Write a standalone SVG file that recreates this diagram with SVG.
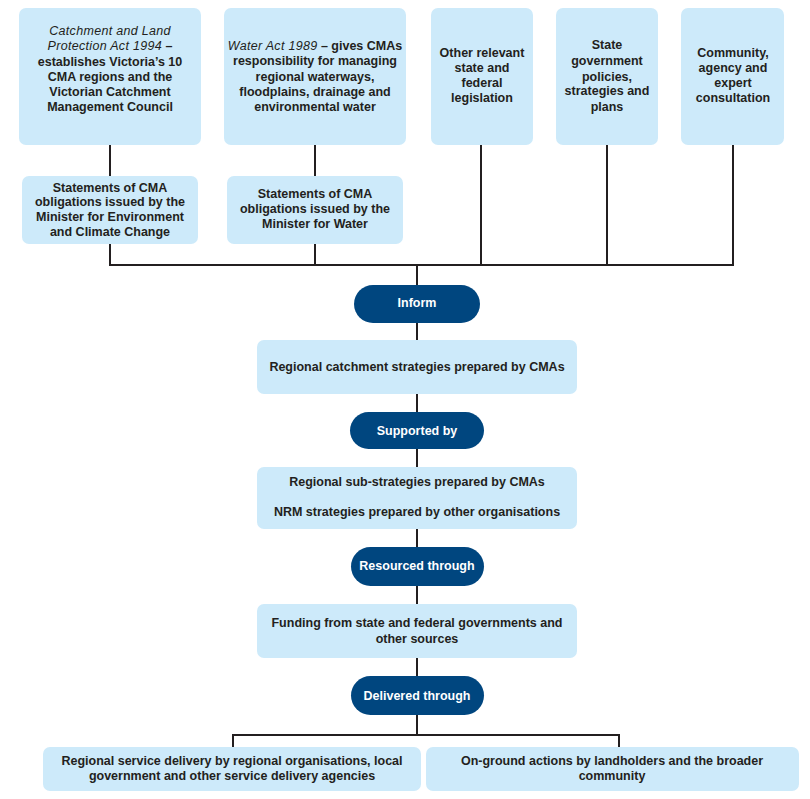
<svg xmlns="http://www.w3.org/2000/svg" width="810" height="799" viewBox="0 0 810 799">
<style>
.box{fill:#cdeafa;}
.pill{fill:#00467f;}
text{font-family:"Liberation Sans",Arial,sans-serif;font-size:12.5px;font-weight:bold;fill:#231f20;text-anchor:middle;}
.w{fill:#ffffff;}
.it{font-style:italic;font-weight:normal;letter-spacing:0.3px;}
.ln{stroke:#231f20;stroke-width:2;fill:none;}
</style>
<rect width="810" height="799" fill="#ffffff"/>
<g id="connectors">
<path class="ln" d="M110 145V176M110 244V265H733V145M315 145V176M315 244V265M481 145V265M607 145V265"/>
<path class="ln" d="M417 265V285M417 323V340M417 394V412M417 449V467M417 529V547M417 586V604M417 658V676M417 715V735M233 747V735H619V747"/>
</g>
<g id="n1"><rect class="box" x="19" y="8" width="182" height="137" rx="7"/>
<text x="110" y="35" class="it">Catchment and Land</text>
<text x="110" y="50"><tspan class="it">Protection Act 1994</tspan> –</text>
<text x="110" y="66">establishes Victoria’s 10</text>
<text x="110" y="81">CMA regions and the</text>
<text x="110" y="96">Victorian Catchment</text>
<text x="110" y="111">Management Council</text></g>
<g id="n2"><rect class="box" x="224" y="8" width="182" height="137" rx="7"/>
<text x="315" y="50"><tspan class="it">Water Act 1989</tspan> – gives CMAs</text>
<text x="315" y="65">responsibility for managing</text>
<text x="315" y="81">regional waterways,</text>
<text x="315" y="96">floodplains, drainage and</text>
<text x="315" y="111">environmental water</text></g>
<g id="n3"><rect class="box" x="431" y="8" width="102" height="137" rx="7"/>
<text x="482" y="57">Other relevant</text>
<text x="482" y="72">state and</text>
<text x="482" y="87">federal</text>
<text x="482" y="102">legislation</text></g>
<g id="n4"><rect class="box" x="556" y="8" width="102" height="137" rx="7"/>
<text x="607" y="49">State</text>
<text x="607" y="65">government</text>
<text x="607" y="81">policies,</text>
<text x="607" y="95">strategies and</text>
<text x="607" y="111">plans</text></g>
<g id="n5"><rect class="box" x="681" y="8" width="103" height="137" rx="7"/>
<text x="733" y="57">Community,</text>
<text x="733" y="72">agency and</text>
<text x="733" y="87">expert</text>
<text x="733" y="102">consultation</text></g>
<g id="n6"><rect class="box" x="22" y="176" width="176" height="68" rx="7"/>
<text x="110" y="192">Statements of CMA</text>
<text x="110" y="206">obligations issued by the</text>
<text x="110" y="221">Minister for Environment</text>
<text x="110" y="236">and Climate Change</text></g>
<g id="n7"><rect class="box" x="227" y="176" width="176" height="68" rx="7"/>
<text x="315" y="198">Statements of CMA</text>
<text x="315" y="213">obligations issued by the</text>
<text x="315" y="228">Minister for Water</text></g>
<g id="p1"><rect class="pill" x="354" y="285" width="126" height="38" rx="19"/>
<text class="w" x="417" y="307">Inform</text></g>
<g id="n8"><rect class="box" x="257" y="340" width="320" height="54" rx="7"/>
<text x="417" y="371">Regional catchment strategies prepared by CMAs</text></g>
<g id="p2"><rect class="pill" x="350" y="412" width="134" height="37" rx="18.5"/>
<text class="w" x="417" y="435">Supported by</text></g>
<g id="n9"><rect class="box" x="257" y="467" width="320" height="62" rx="7"/>
<text x="417" y="486">Regional sub-strategies prepared by CMAs</text>
<text x="417" y="516">NRM strategies prepared by other organisations</text></g>
<g id="p3"><rect class="pill" x="351" y="547" width="133" height="39" rx="19.5"/>
<text class="w" x="417" y="570">Resourced through</text></g>
<g id="n10"><rect class="box" x="257" y="604" width="320" height="54" rx="7"/>
<text x="417" y="627">Funding from state and federal governments and</text>
<text x="417" y="643">other sources</text></g>
<g id="p4"><rect class="pill" x="351" y="676" width="133" height="39" rx="19.5"/>
<text class="w" x="417" y="700">Delivered through</text></g>
<g id="n11"><rect class="box" x="43" y="747" width="378" height="44" rx="7"/>
<text x="232" y="765">Regional service delivery by regional organisations, local</text>
<text x="232" y="780">government and other service delivery agencies</text></g>
<g id="n12"><rect class="box" x="426" y="747" width="373" height="44" rx="7"/>
<text x="612" y="765">On-ground actions by landholders and the broader</text>
<text x="612" y="780">community</text></g>
</svg>
